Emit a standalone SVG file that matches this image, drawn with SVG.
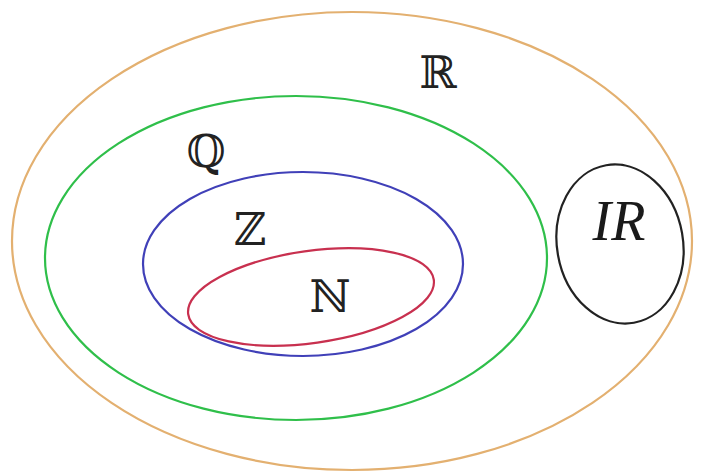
<svg xmlns="http://www.w3.org/2000/svg" width="704" height="476" viewBox="0 0 704 476">
<style>
.set{fill:none;stroke-width:2.2}
.lbl{font-family:"DejaVu Serif","Liberation Serif",serif;font-size:45px;fill:#222;text-anchor:middle}
.it{font-family:"Liberation Serif","DejaVu Serif",serif;font-style:italic;font-size:56px;fill:#1a1a1a;text-anchor:middle}
</style>
<rect width="704" height="476" fill="#fff"/>
<g id="R">
<ellipse class="set" cx="352" cy="241" rx="340" ry="229" stroke="#e3b070"/>
<text class="lbl" x="438" y="88">ℝ</text>
</g>
<g id="Q">
<ellipse class="set" cx="296" cy="258" rx="251" ry="162" stroke="#2fbf4a"/>
<text class="lbl" x="206" y="167">ℚ</text>
</g>
<g id="Z">
<ellipse class="set" cx="303" cy="264" rx="160" ry="92" stroke="#4040b8"/>
<text class="lbl" x="250" y="245">ℤ</text>
</g>
<g id="N">
<ellipse class="set" cx="311" cy="297" rx="124" ry="46" transform="rotate(-8 311 297)" stroke="#c8304f"/>
<text class="lbl" x="330" y="312">ℕ</text>
</g>
<g id="IR">
<ellipse class="set" cx="620" cy="244" rx="63" ry="80" transform="rotate(-10 620 244)" stroke="#222"/>
<text class="it" x="619" y="240">IR</text>
</g>
<g id="connectors"></g>
</svg>
